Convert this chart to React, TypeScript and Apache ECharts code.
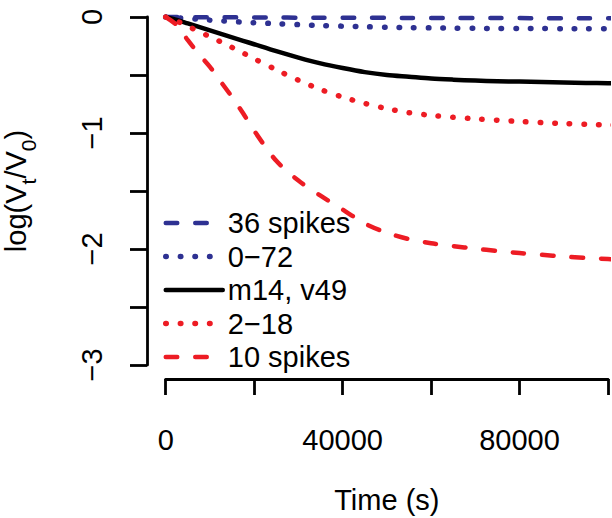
import React, { useEffect, useRef } from "react";
import * as echarts from "echarts";

const times = [0, 2500, 5000, 7500, 10000, 12500, 15000, 17500, 20000, 25000, 30000, 35000, 40000, 45000, 50000, 55000, 60000, 65000, 70000, 75000, 80000, 85000, 90000, 95000, 100000, 101500];

const spikes36 = [0, -0.0005, -0.001, -0.0015, -0.002, -0.0025, -0.003, -0.0035, -0.004, -0.005, -0.0055, -0.006, -0.0065, -0.007, -0.0075, -0.008, -0.0085, -0.009, -0.009, -0.0095, -0.0095, -0.01, -0.01, -0.01, -0.01, -0.01];
const range072 = [0, -0.006, -0.013, -0.02, -0.027, -0.033, -0.039, -0.044, -0.049, -0.058, -0.066, -0.073, -0.079, -0.084, -0.088, -0.091, -0.094, -0.096, -0.098, -0.099, -0.1, -0.1, -0.101, -0.102, -0.102, -0.102];
const m14v49 = [0, -0.025, -0.055, -0.085, -0.115, -0.145, -0.175, -0.205, -0.235, -0.295, -0.35, -0.4, -0.44, -0.475, -0.5, -0.515, -0.53, -0.54, -0.548, -0.553, -0.557, -0.561, -0.565, -0.568, -0.571, -0.572];
const range218 = [0, -0.035, -0.08, -0.125, -0.17, -0.215, -0.262, -0.31, -0.36, -0.455, -0.545, -0.625, -0.69, -0.745, -0.79, -0.825, -0.848, -0.865, -0.878, -0.89, -0.9, -0.91, -0.918, -0.925, -0.93, -0.932];
const spikes10 = [0, -0.07, -0.2, -0.32, -0.43, -0.56, -0.69, -0.83, -0.98, -1.24, -1.41, -1.54, -1.66, -1.78, -1.86, -1.915, -1.95, -1.975, -1.997, -2.017, -2.035, -2.05, -2.065, -2.077, -2.087, -2.09];

const seriesNames = ["36 spikes", "0\u221272", "m14, v49", "2\u221218", "10 spikes"];
const xLabelValues = [0, 40000, 80000];
const yLabelValues = [0, -1, -2, -3];

const BLUE = "#2E3192";
const RED = "#ED1C24";
const FONT = "Liberation Sans, Arial, Helvetica, sans-serif";
const DASH = [11.5, 18];
const DOT = [0.5, 14.1];

export default function App() {
  const ref = useRef<HTMLDivElement>(null);
  useEffect(() => {
    document.body.style.margin = "0";
    const chart = echarts.init(ref.current!, null, { renderer: "svg" });
    const pair = (arr: number[]) => times.map((t, i) => [t, arr[i]]);
    const styles = [
      { color: BLUE, type: DASH, width: 4.5 },
      { color: BLUE, type: DOT, width: 5.5 },
      { color: "#000", type: "solid", width: 4.5 },
      { color: RED, type: DOT, width: 5.5 },
      { color: RED, type: DASH, width: 4.5 },
    ];
    const arrays = [spikes36, range072, m14v49, range218, spikes10];
    chart.setOption({
      animation: false,
      backgroundColor: "#fff",
      textStyle: { fontFamily: FONT },
      grid: { left: 165.7, right: 4, top: 17, bottom: 153, containLabel: false, outerBoundsMode: "none" },
      legend: {
        orient: "vertical",
        left: 163,
        top: 208.5,
        itemWidth: 57,
        itemHeight: 14,
        itemGap: 4.5,
        padding: 0,
        itemStyle: { opacity: 0 },
        textStyle: { fontSize: 29, color: "#000", fontFamily: FONT },
        data: seriesNames.map((name, i) => ({
          name,
          lineStyle: { ...styles[i], cap: "round", opacity: 1 },
        })),
      },
      xAxis: {
        type: "value",
        min: 0,
        max: 100000,
        interval: 20000,
        offset: 14,
        axisLine: { show: true, onZero: false, lineStyle: { color: "#000", width: 2.8 } },
        axisTick: { show: true, length: 16, lineStyle: { color: "#000", width: 2.8 } },
        splitLine: { show: false },
        axisLabel: {
          fontSize: 29,
          color: "#000",
          fontFamily: FONT,
          margin: 46,
          formatter: (v: number) => (xLabelValues.includes(v) ? String(v) : ""),
        },
        name: "Time (s)",
        nameLocation: "middle",
        nameGap: 106,
        nameTextStyle: { fontSize: 29, color: "#000", fontFamily: FONT },
      },
      yAxis: {
        type: "value",
        min: -3,
        max: 0,
        interval: 0.5,
        offset: 18.7,
        axisLine: { show: true, onZero: false, lineStyle: { color: "#000", width: 2.8 } },
        axisTick: { show: true, length: 17, lineStyle: { color: "#000", width: 2.8 } },
        splitLine: { show: false },
        axisLabel: {
          fontSize: 29,
          color: "#000",
          fontFamily: FONT,
          rotate: 90,
          margin: 41,
          formatter: (v: number) => (yLabelValues.includes(v) ? String(v).replace("-", "\u2212") : ""),
        },
        name: "log(V{sub|t}/V{sub|0})",
        nameLocation: "middle",
        nameRotate: 90,
        nameGap: 108,
        nameTextStyle: {
          fontSize: 29,
          color: "#000",
          fontFamily: FONT,
          lineHeight: 46,
          rich: { sub: { fontSize: 21, lineHeight: 26, verticalAlign: "bottom", fontFamily: FONT, color: "#000" } },
        },
      },
      series: seriesNames.map((name, i) => ({
        name,
        type: "line",
        data: pair(arrays[i]),
        symbol: "none",
        clip: false,
        smooth: 0.3,
        lineStyle: { ...styles[i], cap: "round", join: "round" },
        itemStyle: { color: styles[i].color },
        z: 3,
      })),
    });
    return () => chart.dispose();
  }, []);
  return <div ref={ref} style={{ position: "absolute", left: 0, top: 0, width: 612, height: 518 }} />;
}
